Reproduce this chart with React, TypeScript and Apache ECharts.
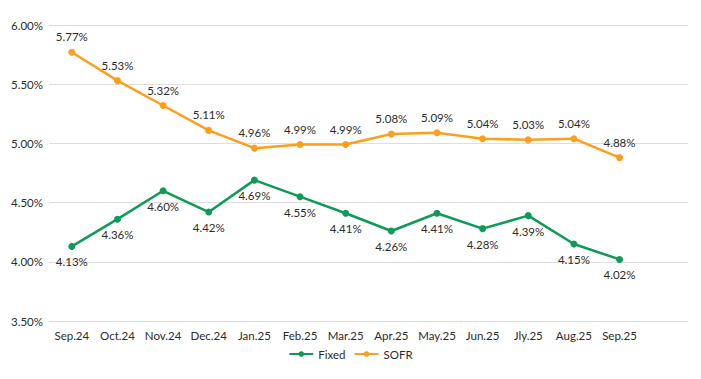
import React, { useEffect, useRef } from "react";
import * as echarts from "echarts";

const categories = ["Sep.24", "Oct.24", "Nov.24", "Dec.24", "Jan.25", "Feb.25", "Mar.25", "Apr.25", "May.25", "Jun.25", "Jly.25", "Aug.25", "Sep.25"];
const fixedValues = [4.13, 4.36, 4.6, 4.42, 4.69, 4.55, 4.41, 4.26, 4.41, 4.28, 4.39, 4.15, 4.02];
const sofrValues = [5.77, 5.53, 5.32, 5.11, 4.96, 4.99, 4.99, 5.08, 5.09, 5.04, 5.03, 5.04, 4.88];
const yTicks = [3.5, 4.0, 4.5, 5.0, 5.5, 6.0];

const FONT = "Lato, 'Noto Sans', sans-serif";
const TEXT = "#2b2b2b";

export default function App() {
  const ref = useRef<HTMLDivElement>(null);
  useEffect(() => {
    const chart = echarts.init(ref.current!, null, { renderer: "svg" });
    chart.setOption({
      animation: false,
      backgroundColor: "#ffffff",
      grid: { left: 49, top: 25, width: 639, height: 296, containLabel: false },
      legend: {
        bottom: 14,
        left: "center",
        itemWidth: 24,
        itemHeight: 7,
        itemGap: 8,
        textStyle: { fontFamily: FONT, fontSize: 11.5, color: TEXT },
        data: ["Fixed", "SOFR"],
      },
      xAxis: {
        type: "category",
        data: [...categories, ""],
        boundaryGap: true,
        axisLine: { show: false },
        axisTick: { show: false },
        axisLabel: { fontFamily: FONT, fontSize: 11.5, color: TEXT, margin: 8, interval: 0 },
      },
      yAxis: {
        type: "value",
        min: yTicks[0],
        max: yTicks[yTicks.length - 1],
        interval: 0.5,
        axisLabel: {
          fontFamily: FONT,
          fontSize: 11.5,
          color: TEXT,
          margin: 6,
          formatter: (v: number) => v.toFixed(2) + "%",
        },
        splitLine: { lineStyle: { color: "#dedede", width: 1 } },
        axisLine: { show: false },
        axisTick: { show: false },
      },
      series: [
        {
          name: "Fixed",
          type: "line",
          data: fixedValues,
          color: "#0f9a58",
          symbol: "circle",
          symbolSize: 7,
          lineStyle: { width: 2.5, color: "#0f9a58" },
          itemStyle: { color: "#0f9a58" },
          label: {
            show: true,
            position: "bottom",
            distance: 6,
            fontFamily: FONT,
            fontSize: 11.5,
            color: TEXT,
            formatter: (p: any) => p.value.toFixed(2) + "%",
          },
        },
        {
          name: "SOFR",
          type: "line",
          data: sofrValues,
          color: "#ff9e1b",
          symbol: "circle",
          symbolSize: 7,
          lineStyle: { width: 2.5, color: "#ff9e1b" },
          itemStyle: { color: "#ff9e1b" },
          label: {
            show: true,
            position: "top",
            distance: 6,
            fontFamily: FONT,
            fontSize: 11.5,
            color: TEXT,
            formatter: (p: any) => p.value.toFixed(2) + "%",
          },
        },
      ],
    });
    return () => chart.dispose();
  }, []);
  return <div ref={ref} style={{ width: 701, height: 379, margin: -8 }} />;
}
